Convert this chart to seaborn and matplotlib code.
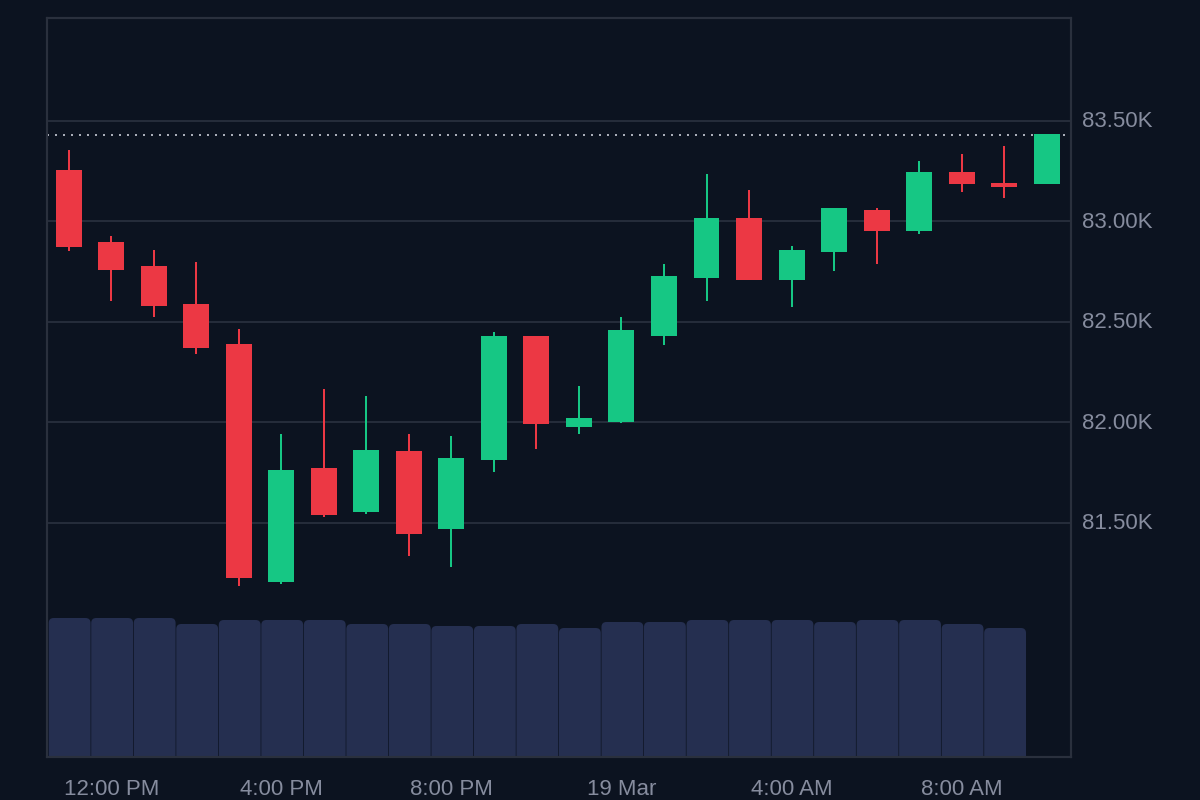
# candlestick chart with volume bars underneath

import pandas as pd
import seaborn as sns
import matplotlib.pyplot as plt
from matplotlib.patches import FancyBboxPatch
from matplotlib.transforms import ScaledTranslation

# =========================
# DATA
# =========================
OPEN = [83255, 82900, 82780, 82590, 82390, 81205, 81775, 81555, 81860, 81470,
        81815, 82430, 81980, 82000, 82430, 82720, 83015, 82710, 82850, 83055,
        82950, 83245, 83190, 83185]
CLOSE = [82875, 82760, 82580, 82370, 81225, 81765, 81540, 81865, 81445, 81825,
         82430, 81990, 82020, 82460, 82730, 83015, 82710, 82860, 83065, 82950,
         83245, 83185, 83170, 83435]
HIGH = [83355, 82930, 82860, 82800, 82465, 81945, 82165, 82130, 81945, 81935,
        82450, 82430, 82180, 82525, 82790, 83235, 83155, 82880, 83065, 83065,
        83300, 83335, 83375, 83435]
LOW = [82855, 82605, 82525, 82340, 81185, 81195, 81530, 81545, 81335, 81280,
       81755, 81870, 81945, 81995, 82385, 82605, 82710, 82575, 82755, 82790,
       82940, 83145, 83115, 83185]
VOLUME = [139, 139, 139, 133, 137, 137, 137, 133, 133, 131, 131, 133,
          129, 135, 135, 137, 137, 137, 135, 137, 137, 133, 129]

Y_TICKS = [81500, 82000, 82500, 83000, 83500]
Y_LABELS = ["81.50K", "82.00K", "82.50K", "83.00K", "83.50K"]
X_TICKS = [1, 5, 9, 13, 17, 21]
X_LABELS = ["12:00 PM", "4:00 PM", "8:00 PM", "19 Mar", "4:00 AM", "8:00 AM"]
LAST_PRICE = 83430

# =========================
# COLOURS
# =========================
BG = "#0c1320"
UP = "#16c784"
DOWN = "#ec3844"
VOL = "#252f50"
GRID = "#252c3a"
TEXT = "#868c9e"

sns.set_theme(style="dark")
plt.rcParams["font.family"] = ["Liberation Sans", "DejaVu Sans"]

df = pd.DataFrame({"open": OPEN, "close": CLOSE, "high": HIGH, "low": LOW})
df["idx"] = range(len(df))
df["base"] = df[["open", "close"]].min(axis=1)
df["body"] = (df["close"] - df["open"]).abs()
df_vol = pd.DataFrame({"idx": range(len(VOLUME)), "volume": VOLUME})

fig = plt.figure(figsize=(12, 8), dpi=100, facecolor=BG)
ax = fig.add_axes([47 / 1200, 1 - 757 / 800, 1024 / 1200, 739 / 800])
ax_vol = ax.twinx()

# volume goes behind the candles
sns.barplot(data=df_vol, x="idx", y="volume", native_scale=True, color=VOL,
            saturation=1, width=1, ax=ax_vol)

PX_X = 42.52
bars = list(ax_vol.patches)
for bar in bars:
    box = FancyBboxPatch(
        (bar.get_x() + 0.03, -10),
        bar.get_width() - 0.016,
        bar.get_height() + 10,
        boxstyle=f"round,pad=0,rounding_size={5 / PX_X}",
        mutation_aspect=PX_X,
        facecolor=VOL,
        edgecolor="none",
    )
    bar.remove()
    ax_vol.add_patch(box)
ax_vol.set_ylim(0, 739)
ax_vol.set_yticks([])
ax_vol.set_ylabel("")
ax_vol.grid(False)

ax.set_zorder(ax_vol.get_zorder() + 1)
ax.patch.set_visible(False)
ax_vol.patch.set_facecolor(BG)
ax_vol.patch.set_visible(True)

for is_up, color in [(True, UP), (False, DOWN)]:
    part = df[(df["close"] >= df["open"]) == is_up]
    ax.vlines(part["idx"], part["low"], part["high"], color=color, lw=1.44, zorder=3)
    sns.barplot(data=part, x="idx", y="body", bottom=part["base"].values,
                native_scale=True, color=color, saturation=1, width=0.61,
                linewidth=0, ax=ax, zorder=4)

ax.axhline(LAST_PRICE, xmax=1020 / 1024, color="#a9adb8", lw=1.44,
           linestyle=(0, (1, 3)), zorder=2)

ax.set_xlim(-0.51, 23.572)
ax.set_ylim(80336, 84012)
ax_vol.set_xlim(-0.51, 23.572)

ax.grid(False)
ax.yaxis.tick_right()
ax.yaxis.set_label_position("right")
ax.set_yticks(Y_TICKS, Y_LABELS)
ax.set_xticks(X_TICKS, X_LABELS)
for tick in Y_TICKS:
    ax.axhline(tick, color=GRID, lw=1.44, zorder=1)
ax.tick_params(axis="y", length=0, pad=8.2, labelsize=16, labelcolor=TEXT)
ax.tick_params(axis="x", length=0, pad=16, labelsize=16, labelcolor=TEXT)
ax.set_xlabel("")
ax.set_ylabel("")

# the y labels sit a little above their grid lines
nudge = ScaledTranslation(0, 1.5 / 100, fig.dpi_scale_trans)
for label in ax.get_yticklabels():
    label.set_transform(label.get_transform() + nudge)

for a in (ax, ax_vol):
    for spine in a.spines.values():
        spine.set_color("#2a303d")
        spine.set_linewidth(1.5)

fig.savefig("out.png", dpi=100, facecolor=BG)
